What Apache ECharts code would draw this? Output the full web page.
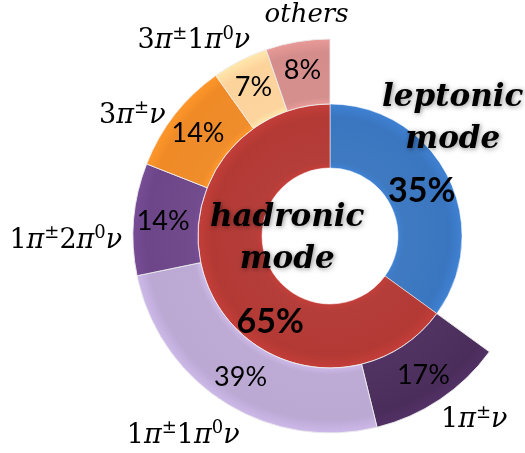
<!DOCTYPE html>
<html><head><meta charset="utf-8">
<script src="https://cdn.jsdelivr.net/npm/echarts@6/dist/echarts.min.js"></script>
<style>html,body{margin:0;padding:0;background:#fff}#c{width:525px;height:453px}</style>
</head><body><div id="c"></div>
<script>
// ---- data ----
const modeNames = ['leptonic', 'hadronic'];
const modeValues = [35, 65];
const modeLabels = ['35%', '65%'];
const hadronicNames = ['1π±ν', '1π±1π0ν', '1π±2π0ν', '3π±ν', '3π±1π0ν', 'others'];
const hadronicValues = [17, 39, 14, 14, 7, 8];
const hadronicLabels = ['17%', '39%', '14%', '14%', '7%', '8%'];

// ---- styles ----
const modeColors = ['#3a76c0', '#b33934'];
const outerColors = ['#4b2d5c', '#bba9d4', '#6d4689', '#ef8a26', '#fdd39c', '#d48d8b'];
const CX = 330, CY = 236;
const R_IN = [68, 132], R_OUT = [132, 197], R_NAME = [200, 250];
const modeNameOffsets = [[31, -70], [49, -44]];
const modePctOffsets = [[0, 2], [32, 39]];
const hadronicNameOffsets = [[17, -5], [-25, 7], [-37, 24], [-18, 20], [-32, 8], [14, 4]];

function shade(c, r0, r1) {
  const a = r0 / r1;
  const dark = echarts.color.lift(c, -0.1);
  const light = echarts.color.lift(c, 0.03);
  return { type: 'radial', x: CX, y: CY, r: r1, global: true,
    colorStops: [
      { offset: a, color: dark },
      { offset: a + (1 - a) * 0.1, color: light },
      { offset: a + (1 - a) * 0.8, color: c },
      { offset: 1, color: dark }
    ] };
}

function mathRich(s) {
  if (s === 'others') return '{o|others}';
  let out = '', prev = '';
  for (const ch of s) {
    if (ch === 'π' || ch === 'ν') out += '{p|' + ch + '}';
    else if (ch === '±') out += '{s|±}';
    else if (ch === '0' && prev === 'π') out += '{s|0}';
    else out += '{n|' + ch + '}';
    prev = ch;
  }
  return out;
}

const hadSum = hadronicValues.reduce((a, b) => a + b, 0);
const gapValue = modeValues[0] / modeValues[1] * hadSum;
const hidden = { value: gapValue, name: '', itemStyle: { color: 'rgba(0,0,0,0)', borderWidth: 0, shadowBlur: 0 }, label: { show: false }, emphasis: { disabled: true } };

const innerData = modeValues.map((v, i) => ({ value: v, name: modeNames[i], itemStyle: { color: shade(modeColors[i], R_IN[0], R_IN[1]) } }));
const innerNameData = modeValues.map((v, i) => ({ value: v, name: modeNames[i] }));
const outerData = [hidden].concat(hadronicValues.map((v, i) => ({ value: v, name: hadronicNames[i], itemStyle: { color: shade(outerColors[i], R_OUT[0], R_OUT[1]) } })));
const outerNameData = [Object.assign({}, hidden)].concat(hadronicValues.map((v, i) => ({ value: v, name: hadronicNames[i] })));

const base = { type: 'pie', center: [CX, CY], startAngle: 90, clockwise: true, avoidLabelOverlap: false, labelLine: { show: false }, animation: false };

const chart = echarts.init(document.getElementById('c'), null, { renderer: 'canvas' });
chart.setOption({
  backgroundColor: '#ffffff',
  series: [
    Object.assign({}, base, {
      name: 'mode', radius: R_IN, data: innerData, z: 2,
      itemStyle: { borderColor: 'rgba(255,255,255,0.5)', borderWidth: 1 },
      label: { position: 'inside', formatter: p => modeLabels[p.dataIndex], fontFamily: 'Lato', fontWeight: 'bold', fontSize: 34, color: '#000' },
      labelLayout: p => ({ dx: modePctOffsets[p.dataIndex][0], dy: modePctOffsets[p.dataIndex][1] })
    }),
    Object.assign({}, base, {
      name: 'outer', radius: R_OUT, data: outerData, z: 2,
      itemStyle: { borderColor: 'rgba(235,235,235,0.9)', borderWidth: 1 },
      label: { position: 'inside', formatter: p => hadronicLabels[p.dataIndex - 1], fontFamily: 'Lato', fontSize: 27, color: '#000' }
    }),
    Object.assign({}, base, {
      name: 'modeNames', radius: R_IN, data: innerNameData, z: 5, silent: true,
      itemStyle: { color: 'rgba(0,0,0,0)' },
      label: { position: 'inside', formatter: p => p.name + '\nmode', fontFamily: 'DejaVu Serif', fontStyle: 'italic', fontWeight: 'bold', fontSize: 31, lineHeight: 42, color: '#000',
        textShadowColor: 'rgba(0,0,0,0.45)', textShadowBlur: 5, textShadowOffsetX: 1, textShadowOffsetY: 1 },
      labelLayout: p => ({ dx: modeNameOffsets[p.dataIndex][0], dy: modeNameOffsets[p.dataIndex][1] })
    }),
    Object.assign({}, base, {
      name: 'outerNames', radius: R_NAME, data: outerNameData, z: 5, silent: true,
      itemStyle: { color: 'rgba(0,0,0,0)' },
      label: { position: 'inside', formatter: p => mathRich(p.name),
        rich: {
          n: { fontFamily: 'DejaVu Serif', fontSize: 27, lineHeight: 32, color: '#000' },
          p: { fontFamily: 'DejaVu Serif', fontStyle: 'italic', fontSize: 27, lineHeight: 32, color: '#000' },
          s: { fontFamily: 'DejaVu Serif', fontSize: 18, lineHeight: 15, verticalAlign: 'top', color: '#000' },
          o: { fontFamily: 'DejaVu Serif', fontStyle: 'italic', fontSize: 26, lineHeight: 32, color: '#000' }
        } },
      labelLayout: p => p.dataIndex === 0 ? {} : ({ dx: hadronicNameOffsets[p.dataIndex - 1][0], dy: hadronicNameOffsets[p.dataIndex - 1][1] })
    })
  ]
});
</script>
</body></html>
